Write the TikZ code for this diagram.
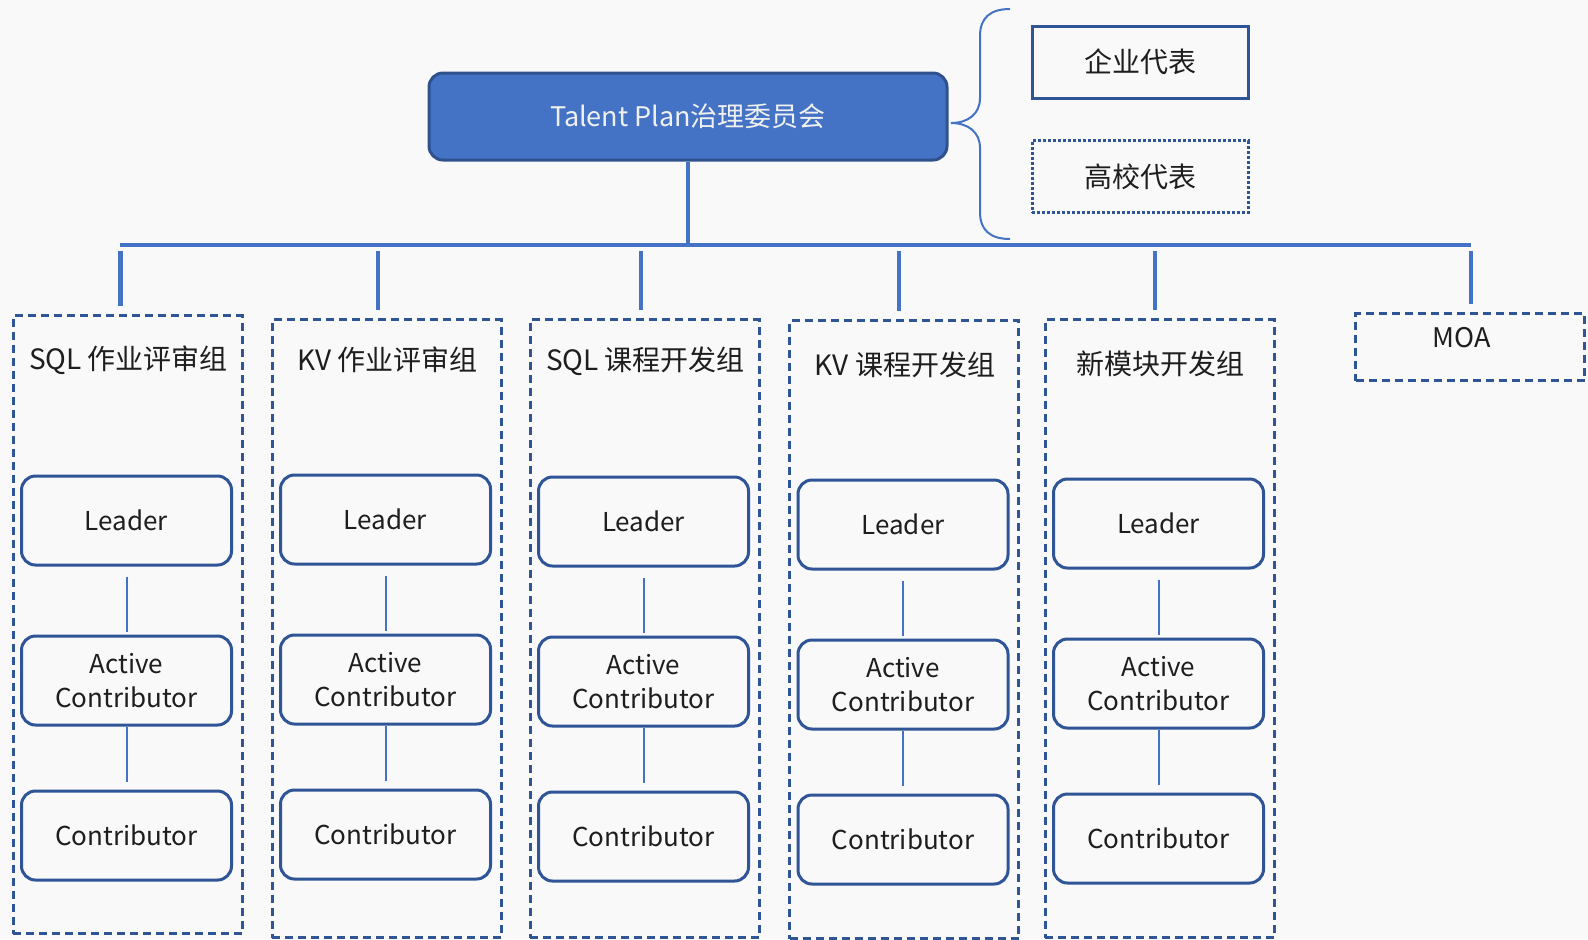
\documentclass[tikz,border=0pt]{standalone}
\usepackage{fontspec}
\setmainfont{Noto Sans CJK SC}
\usetikzlibrary{positioning}
\definecolor{mainblue}{HTML}{4472C4}
\definecolor{edgeblue}{HTML}{2F5597}
\definecolor{topedge}{HTML}{2F528F}
\definecolor{bgcol}{HTML}{F9F9F9}
\definecolor{txtcol}{HTML}{1E1E1E}
\tikzset{
	rolebox/.style={draw=edgeblue, line width=1.5pt, rounded corners=7pt,
			minimum width=105pt, minimum height=44.5pt, align=center,
			text=txtcol, font=\fontsize{13}{17.2}\selectfont},
	groupbox/.style={draw=edgeblue, line width=1.5pt, dash pattern=on 4pt off 2.5pt,
			minimum width=114.5pt},
	repbox/.style={draw=edgeblue, line width=1.5pt, minimum width=108pt,
			minimum height=36pt, text=txtcol, font=\fontsize{14}{16}\selectfont},
	grouptitle/.style={text=txtcol, font=\fontsize{14}{16}\selectfont},
	busline/.style={mainblue, line width=2.4pt},
	link/.style={mainblue, line width=1pt}
}

\begin{document}
\begin{tikzpicture}[x=0.5pt, y=-0.5pt]
	\useasboundingbox[fill=bgcol] (0,0) rectangle (1588,939);

	% committee and its members
	\node[draw=topedge, fill=mainblue, line width=1.5pt, rounded corners=7pt,
		minimum width=259pt, minimum height=43.5pt, text=white!94!black,
		font=\fontsize{13.5}{16}\selectfont] (council) at (688,116.5) {Talent Plan治理委员会};
	\node[repbox] (corp) at (1140,62) {企业代表};
	\node[repbox, dash pattern=on 1.5pt off 1pt] (univ) at (1140,176.5) {高校代表};
	\coordinate (tip) at (951,123);
	\draw[link] (1010,9) .. controls (990,9) and (980,18) .. (980,36) -- (980,98)
		.. controls (980,114) and (968,123) .. (tip)
		.. controls (968,123) and (980,132) .. (980,148) -- (980,212)
		.. controls (980,230) and (990,239) .. (1010,239);

	% bus
	\coordinate (busL) at (120,245);
	\coordinate (busR) at (1471,245);
	\draw[busline] (busL) -- (busR);
	\draw[busline, line width=1.8pt] (council.south) -- (council.south |- busL);

	% working groups
	\foreach \i/\gx/\dx/\gtop/\ly/\ttl in {1/127.5/120.5/314/520.5/SQL 作业评审组,
			2/386.5/378/318/519.5/KV 作业评审组, 3/644.5/641/318/521.5/SQL 课程开发组,
			4/904/899/319/524.5/KV 课程开发组, 5/1159.5/1155/318/523.5/新模块开发组}{
		\node[groupbox, minimum height=309pt, anchor=north] (g\i) at (\gx,\gtop) {};
		\node[grouptitle] (t\i) at (\gx+1,\ly-160) {\ttl};
		\node[rolebox] (l\i) at (\gx-1,\ly) {Leader};
		\node[rolebox, below=34pt of l\i] (a\i) {Active\\Contributor};
		\node[rolebox, below=31.5pt of a\i] (c\i) {Contributor};
		\draw[link, shorten <=5pt, shorten >=1.5pt] (l\i) -- (a\i);
		\draw[link, shorten >=4pt] (a\i) -- (c\i);
		\draw[busline, line width=2.2pt, shorten <=3pt, shorten >=4pt]
			(\dx,0 |- busL) -- (\dx,0 |- g\i.north);
	}

	\node[groupbox, minimum height=33.5pt] (moa) at (1470,347) {};
	\node[grouptitle, font=\fontsize{13.5}{16}\selectfont] (moatxt) at (1462,338) {MOA};
	\draw[busline, line width=2.2pt, shorten <=3pt, shorten >=4pt] (busR) -- (busR |- moa.north);
\end{tikzpicture}
\end{document}
